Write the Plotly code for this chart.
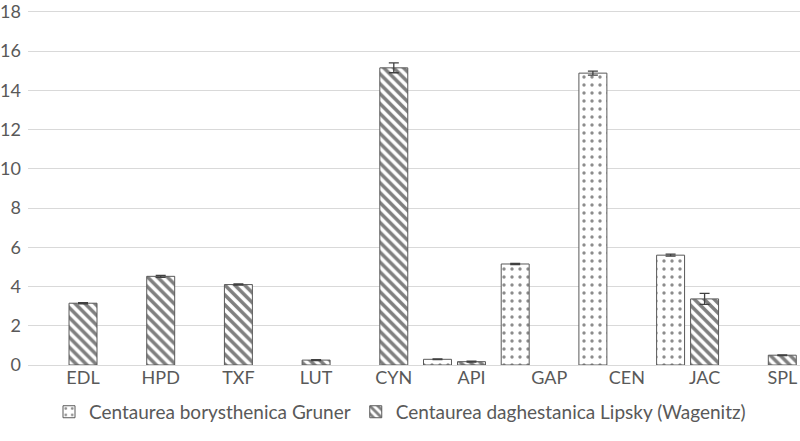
import plotly.graph_objects as go

categories = ["EDL", "HPD", "TXF", "LUT", "CYN", "API", "GAP", "CEN", "JAC", "SPL"]
series_names = ["Centaurea borysthenica Gruner", "Centaurea daghestanica Lipsky (Wagenitz)"]
borysthenica = [None, None, None, None, None, 0.29, 5.15, 14.88, 5.6, None]
borysthenica_err = [None, None, None, None, None, 0.02, 0.03, 0.1, 0.05, None]
daghestanica = [3.15, 4.52, 4.1, 0.25, 15.15, 0.17, None, None, 3.37, 0.5]
daghestanica_err = [0.03, 0.05, 0.03, 0.02, 0.25, 0.02, None, None, 0.28, 0.02]
y_ticks = [0, 2, 4, 6, 8, 10, 12, 14, 16, 18]

TXT = "#595959"
FONT = "Lato"
BW = 0.36

fig = go.Figure()
fig.add_trace(go.Bar(
    x=categories, y=borysthenica, name=series_names[0],
    width=BW, offset=-0.6176,
    marker=dict(color="white", line=dict(color="#595959", width=1),
                pattern=dict(shape=".", fgcolor="#1a1a1a", bgcolor="white",
                             size=8, solidity=0.14, fillmode="overlay")),
    error_y=dict(type="data", array=borysthenica_err, visible=True,
                 color="#404040", thickness=1.3, width=5),
))
fig.add_trace(go.Bar(
    x=categories, y=daghestanica, name=series_names[1],
    width=BW, offset=-BW / 2,
    marker=dict(color="white", line=dict(color="#595959", width=1),
                pattern=dict(shape="\\", fgcolor="#000000", bgcolor="white",
                             size=7, solidity=0.5, fillmode="overlay")),
    error_y=dict(type="data", array=daghestanica_err, visible=True,
                 color="#404040", thickness=1.3, width=5),
))

fig.update_layout(
    width=800, height=441,
    margin=dict(l=28, r=0, t=9, b=76, autoexpand=False),
    paper_bgcolor="white", plot_bgcolor="white",
    barmode="overlay",
    font=dict(family=FONT, size=18, color=TXT),
    xaxis=dict(type="category", range=[-0.708, 9.228], showgrid=False,
               showline=False, ticks="", automargin=False,
               tickfont=dict(size=18, color=TXT)),
    yaxis=dict(range=[0, 18.15], tickvals=y_ticks, gridcolor="#d9d9d9", gridwidth=1,
               zeroline=True, zerolinecolor="#d9d9d9", zerolinewidth=1,
               showline=False, ticks="", automargin=False,
               ticklabelstandoff=6, ticklabeloverflow="allow",
               tickfont=dict(size=18, color=TXT)),
    showlegend=True,
    legend=dict(orientation="h", xref="container", yref="container",
                x=0.5, xanchor="center", y=0.066, yanchor="middle",
                font=dict(size=19, color=TXT), itemwidth=30),
)

fig.write_html("out.html", config={"displayModeBar": False},
               post_script="document.body.style.margin='0';document.body.style.overflow='hidden';")
